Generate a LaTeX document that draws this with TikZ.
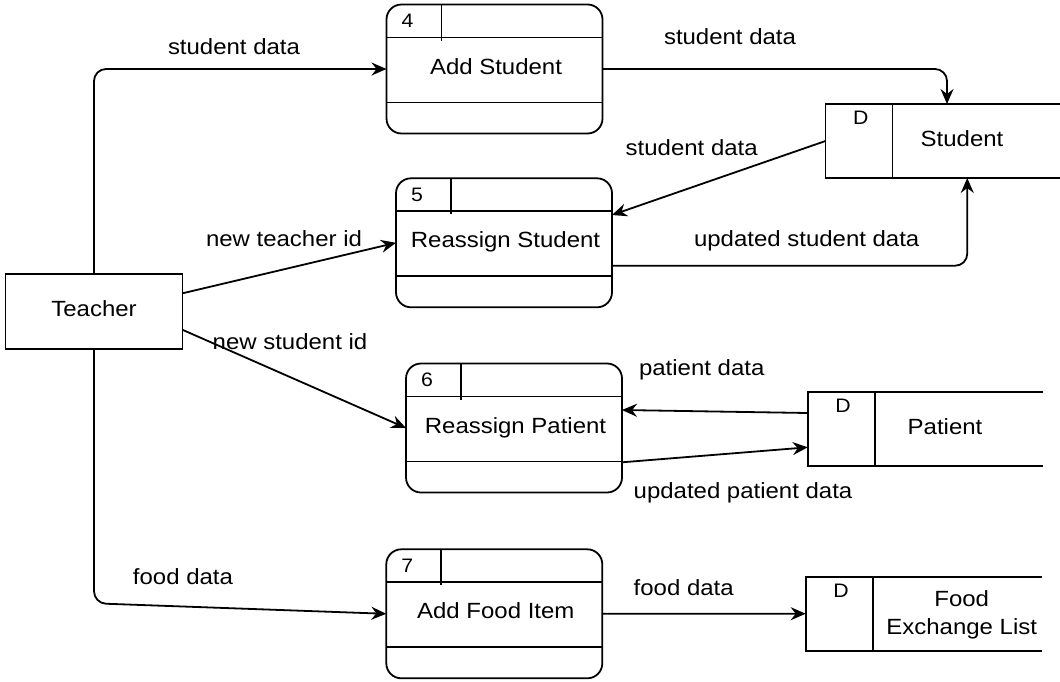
\documentclass[tikz,border=0pt]{standalone}
\usepackage{fontspec}
\setmainfont{Liberation Sans}[FakeStretch=1.09]
\usetikzlibrary{arrows.meta}

% font sizes for labels and for the small process/store tags
\newcommand{\lblfont}{\fontsize{22}{26}\selectfont}
\newcommand{\tagfont}{\fontsize{19.5}{23}\selectfont}

\tikzset{
  wire/.style={line width=1.8pt, draw=black},
  flow/.style={wire, -{Stealth[length=15pt,width=13pt,inset=5pt]}, rounded corners=12pt},
  procbox/.style={wire, draw, rounded corners=15pt, minimum width=216pt,
    minimum height=129pt, inner sep=0pt, outer sep=0pt},
  storebox/.style={inner sep=0pt, outer sep=0pt, minimum height=74pt},
  extbox/.style={wire, draw, inner sep=0pt, outer sep=0pt, minimum width=177pt,
    minimum height=75pt, font=\lblfont, text height=16pt, text depth=7.6pt},
  lbl/.style={font=\lblfont, anchor=base, inner sep=0pt},
  tag/.style={font=\tagfont, anchor=base, inner sep=0pt},
}

% process: name, centre x, top y, number, title
\newcommand{\dfdprocess}[5]{%
  \node[procbox] (#1) at (#2,#3+64.5) {};
  \draw[wire] ([yshift=-33pt]#1.north west) -- ([yshift=-33pt]#1.north east);
  \draw[wire] ([yshift=-98pt]#1.north west) -- ([yshift=-98pt]#1.north east);
  \draw[wire] ([xshift=55pt]#1.north west) -- ([xshift=55pt,yshift=-36pt]#1.north west);
  \node[tag] (#1-id) at ([xshift=21pt,yshift=-23pt]#1.north west) {#4};
  \node[lbl] (#1-title) at ([xshift=1.5pt,yshift=-69.5pt]#1.north) {#5};
}

% data store (open on the right): name, centre x, top y, width
\newcommand{\dfdstore}[4]{%
  \node[storebox, minimum width=#4pt] (#1) at (#2,#3+37) {};
  \draw[wire] (#1.north east) -- (#1.north west) -- (#1.south west) -- (#1.south east);
  \draw[wire] ([xshift=67pt]#1.north west) -- ([xshift=67pt]#1.south west);
  \node[tag] (#1-id) at ([xshift=35.3pt,yshift=-20.3pt]#1.north west) {D};
}

\begin{document}
\begin{tikzpicture}[x=1pt,y=-1pt]
\useasboundingbox (0,0) rectangle (1060,681);

% external entity
\node[extbox] (teacher) at (94,311.8) {Teacher};

% processes
\dfdprocess{p4}{494.5}{4.5}{4}{Add Student}
\dfdprocess{p5}{504}{178.3}{5}{Reassign Student}
\dfdprocess{p6}{514}{363.5}{6}{Reassign Patient}
\dfdprocess{p7}{494.3}{549.3}{7}{Add Food Item}

% data stores
\dfdstore{sstore}{942.75}{104}{234.5}
\dfdstore{pstore}{925.35}{391.7}{235.3}
\dfdstore{fstore}{923.7}{576.7}{236}
\node[lbl] (sstore-name) at (962,146) {Student};
\node[lbl] (pstore-name) at (945,434.5) {Patient};
\node[lbl] (fstore-name1) at (961.7,606) {Food};
\node[lbl] (fstore-name2) at (961.7,634.5) {Exchange List};

% data flows
\draw[flow] (teacher.north) |- (p4.west);
\draw[flow] (p4.east) -| ([xshift=4.25pt]sstore.north);
\draw[flow] (sstore.west) -- ([yshift=27.8pt]p5.east);
\draw[flow] ([yshift=-22.9pt]p5.east) -| ([xshift=24.5pt]sstore.south);
\draw[flow] ([yshift=18.5pt]teacher.east) -- (p5.west);
\draw[flow] ([yshift=-18pt]teacher.east) -- (p6.west);
\draw[flow] ([yshift=15.7pt]pstore.west) -- ([yshift=18pt]p6.east);
\draw[flow] ([yshift=-34.3pt]p6.east) -- ([yshift=-18.6pt]pstore.west);
\draw[flow] (teacher.south) -- ++(0,254) -- (p7.west);
\draw[flow] (p7.east) -- (fstore.west);

% flow labels
\node[lbl] (l1) at (234,54.7) {student data};
\node[lbl] (l2) at (730,44) {student data};
\node[lbl] (l3) at (691.7,155.3) {student data};
\node[lbl] (l4) at (806.7,246) {updated student data};
\node[lbl] (l5) at (284,246.3) {new teacher id};
\node[lbl] (l6) at (290,349) {new student id};
\node[lbl] (l7) at (701.7,375) {patient data};
\node[lbl] (l8) at (743,498.5) {updated patient data};
\node[lbl] (l9) at (183,584.7) {food data};
\node[lbl] (l10) at (683.7,595.7) {food data};
\end{tikzpicture}
\end{document}
